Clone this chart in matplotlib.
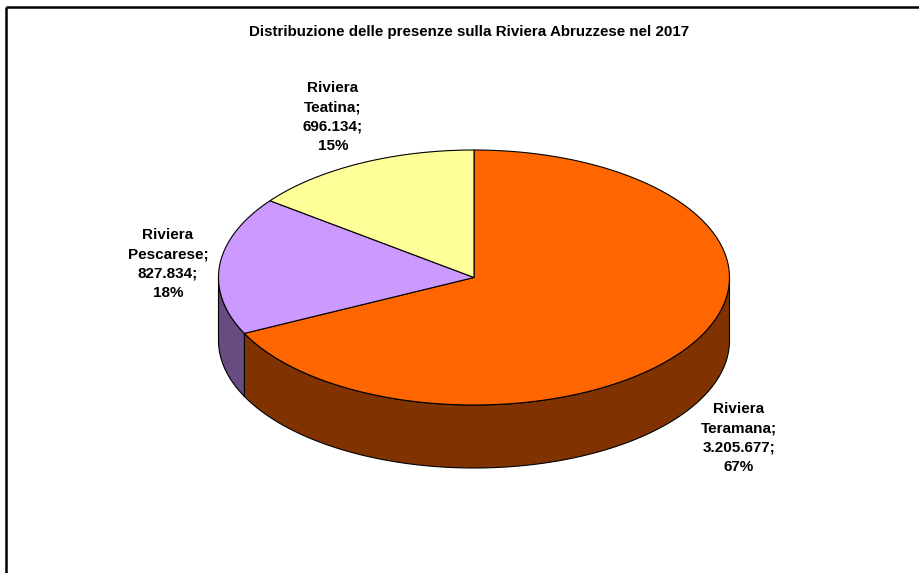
import numpy as np
import matplotlib.pyplot as plt
from matplotlib.patches import Polygon

# Presenze 2017 per riviera
riviere = ['Riviera\nTeramana', 'Riviera\nPescarese', 'Riviera\nTeatina']
presenze = [3205677, 827834, 696134]
percentuali = [67, 18, 15]
colori_top = ['#FF6600', '#CC99FF', '#FFFF99']
colori_lato = ['#803300', '#664C80', '#80804C']

titolo = 'Distribuzione delle presenze sulla Riviera Abruzzese nel 2017'

# geometria della torta 3D (in pixel)
cx, cy = 474, 277.5
rx, ry = 255.5, 127.5
spessore = 63
pos_etichette = [(739, 438), (168, 264), (333, 117)]


def fmt_num(v):
    return f'{v:,}'.replace(',', '.')


def punti_arco(a, b, dy=0.0, n=120):
    t = np.radians(np.linspace(a, b, n))
    return np.column_stack([cx + rx * np.cos(t), cy + dy - ry * np.sin(t)])


fig = plt.figure(figsize=(9.2, 5.73), dpi=100)
ax = fig.add_axes([0, 0, 1, 1])
ax.set_xlim(0, 920)
ax.set_ylim(573, 0)
ax.axis('off')

# angoli (in gradi) partendo dalle ore 12 in senso orario
totale = sum(presenze)
angoli = []
inizio = 90.0
for v in presenze:
    fine = inizio - 360.0 * v / totale
    angoli.append((inizio, fine))
    inizio = fine

# lati visibili: solo la metà anteriore, tra -180 e 0 gradi
for (a, b), col in zip(angoli, colori_lato):
    s0, s1 = max(b, -180), min(a, 0)
    if s1 <= s0:
        continue
    sopra = punti_arco(s0, s1)
    sotto = punti_arco(s1, s0, dy=spessore)
    ax.add_patch(Polygon(np.vstack([sopra, sotto]), closed=True,
                         facecolor=col, edgecolor='black', lw=0.8, zorder=2))

# facce superiori
for (a, b), col in zip(angoli, colori_top):
    pts = np.vstack([[cx, cy], punti_arco(a, b)])
    ax.add_patch(Polygon(pts, closed=True, facecolor=col,
                         edgecolor='black', lw=0.8, zorder=3))

# etichette
for nome, v, p, (x, y) in zip(riviere, presenze, percentuali, pos_etichette):
    testo = f'{nome};\n{fmt_num(v)};\n{p}%'
    ax.text(x, y, testo, ha='center', va='center', fontsize=11,
            fontweight='bold', family='Liberation Sans', linespacing=1.5)

ax.text(469, 32, titolo, ha='center', va='center', fontsize=10.9,
        fontweight='bold', family='Liberation Sans')

# cornice (bordo superiore e sinistro)
ax.plot([6, 920], [7, 7], color='black', lw=1.8, solid_capstyle='butt')
ax.plot([6, 6], [7, 573], color='black', lw=1.8, solid_capstyle='butt')

fig.savefig('out.png', dpi=100)
